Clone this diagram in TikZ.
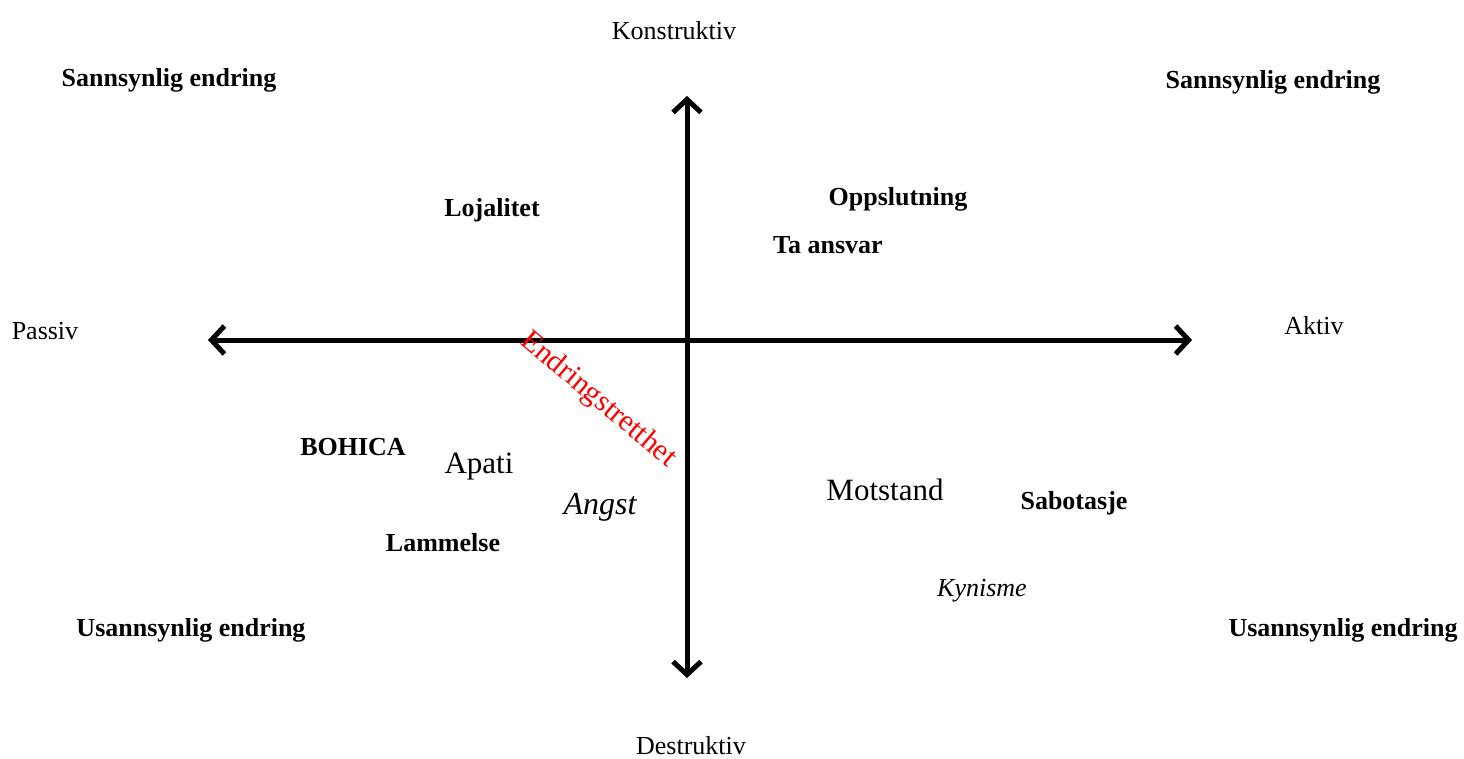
\documentclass[tikz,border=0pt]{standalone}
\usepackage{fontspec}
\setmainfont{Liberation Serif}
\usetikzlibrary{arrows.meta}
\begin{document}
\begin{tikzpicture}[x=1pt,y=-1pt,
  lbl/.style={inner sep=0pt,font=\fontsize{26}{30}\selectfont},
  blbl/.style={inner sep=0pt,font=\fontsize{26}{30}\selectfont\bfseries},
  big/.style={inner sep=0pt,font=\fontsize{31}{36}\selectfont},
  axis/.style={line width=5pt,
    {Straight Barb[length=13pt,width=28pt,line width=5pt]}-{Straight Barb[length=13pt,width=28pt,line width=5pt]}}]
\useasboundingbox (0,0) rectangle (1464,758);
\coordinate (L) at (208,340);
\coordinate (R) at (1192,340);
\coordinate (T) at (687,96);
\coordinate (B) at (687,678);
\draw[axis] (L) -- (R);
\draw[axis] (T) -- (B);
\node[lbl] (konstr) at (674,31) {Konstruktiv};
\node[lbl] (destr) at (691,746) {Destruktiv};
\node[lbl] (passiv) at (45,331) {Passiv};
\node[lbl] (aktiv) at (1314,326) {Aktiv};
\node[blbl] (sl) at (169,80) {Sannsynlig endring};
\node[blbl] (sr) at (1273,82) {Sannsynlig endring};
\node[blbl] (ul) at (191,630) {Usannsynlig endring};
\node[blbl] (ur) at (1343,630) {Usannsynlig endring};
\node[blbl] (loj) at (492,210) {Lojalitet};
\node[blbl] (opp) at (898,199) {Oppslutning};
\node[blbl] (ta) at (828,245) {Ta ansvar};
\node[blbl] (boh) at (353,447) {BOHICA};
\node[big] (apati) at (479,467) {Apati};
\node[inner sep=0pt,font=\fontsize{32}{36}\selectfont\itshape] (angst) at (600,507) {Angst};
\node[blbl] (lam) at (443,543) {Lammelse};
\node[big] (mot) at (885,490) {Motstand};
\node[blbl] (sab) at (1074,503) {Sabotasje};
\node[inner sep=0pt,font=\fontsize{26}{30}\selectfont\itshape] (kyn) at (982,591) {Kynisme};
\node[inner sep=0pt,text=red,rotate=-40,font=\fontsize{30}{34}\selectfont] (endr) at (598,400) {Endringstretthet};
\end{tikzpicture}
\end{document}
